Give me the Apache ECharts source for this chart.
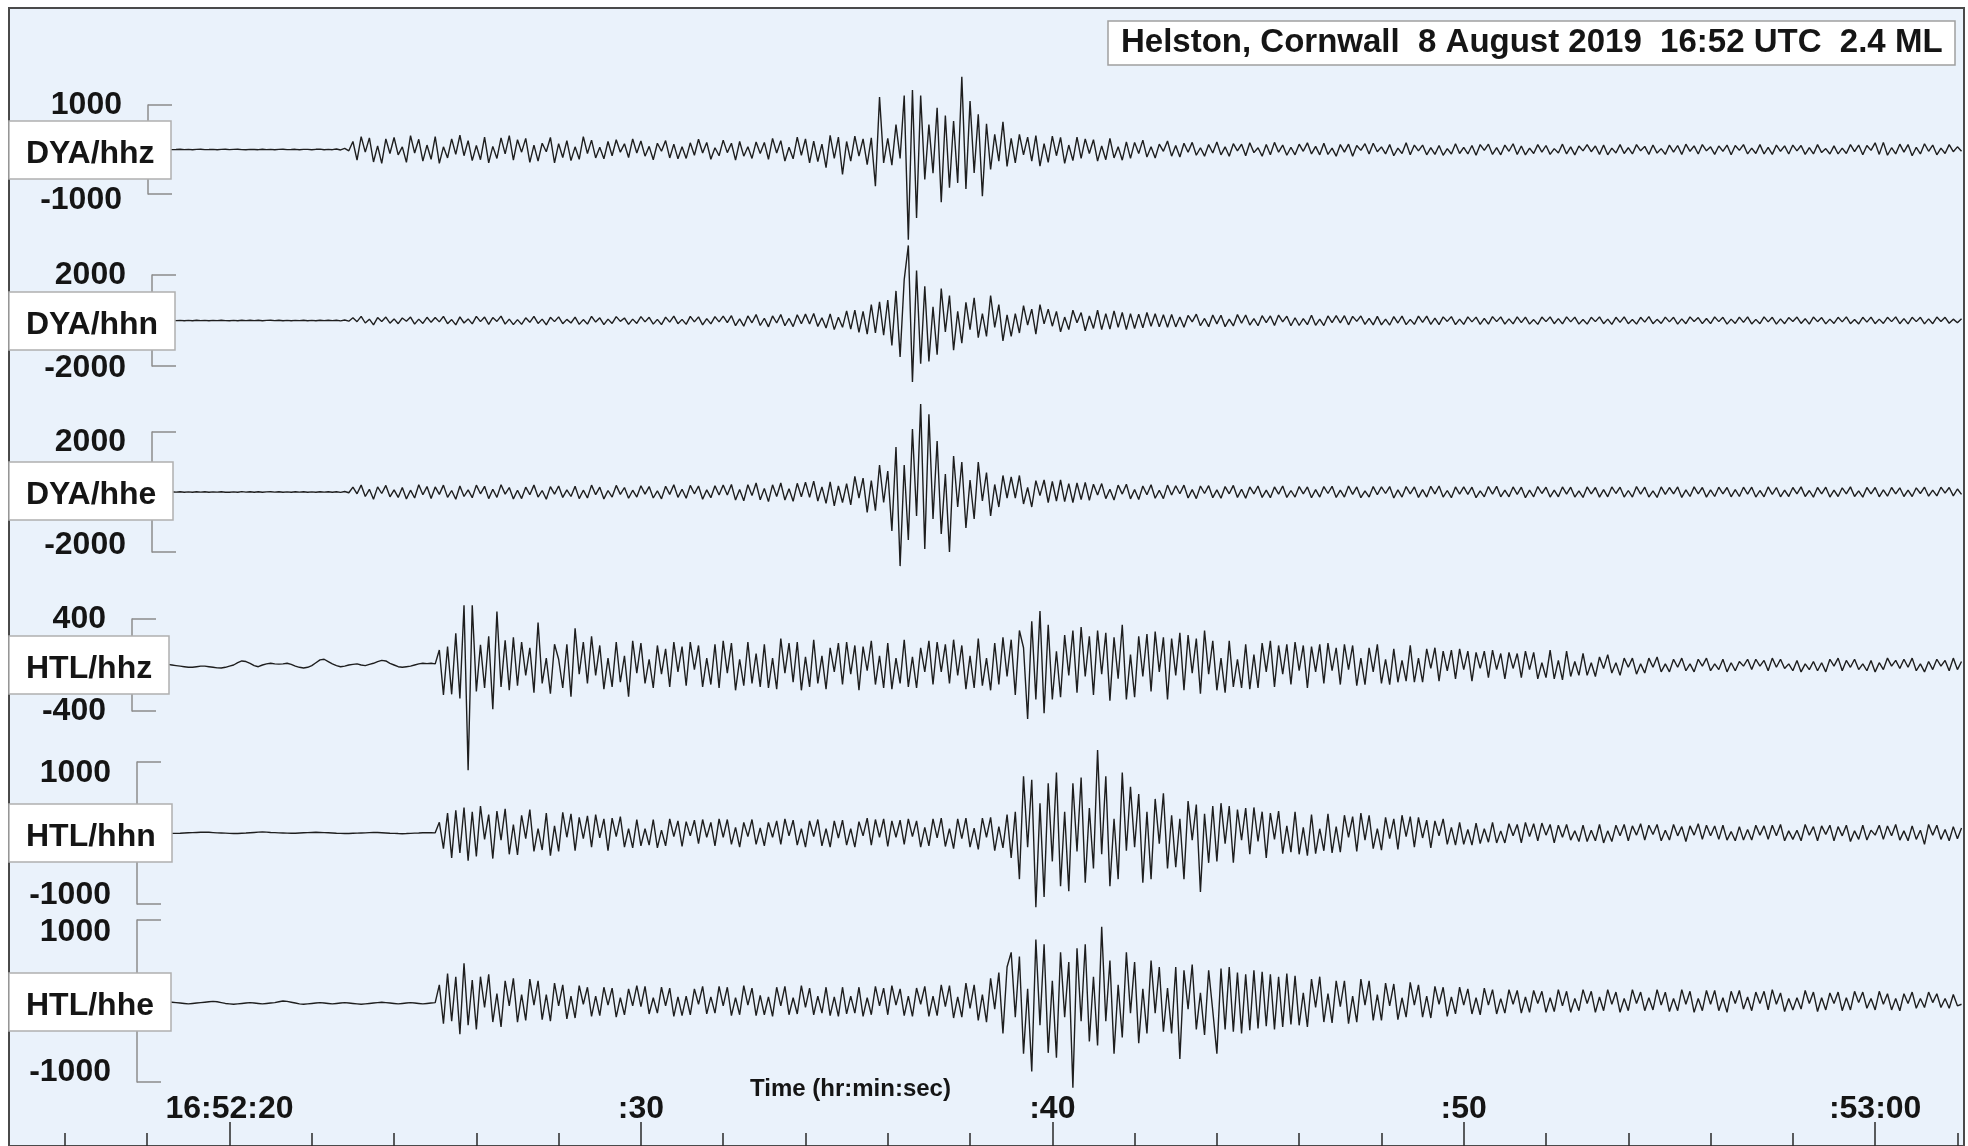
<!DOCTYPE html>
<html>
<head>
<meta charset="utf-8">
<title>Helston, Cornwall 8 August 2019</title>
<script src="https://cdn.jsdelivr.net/npm/echarts@6/dist/echarts.min.js"></script>
<style>
  html, body { margin: 0; padding: 0; background: #ffffff; }
  #eChart { width: 1968px; height: 1146px; }
</style>
</head>
<body>
<div id="eChart"></div>
<script>
const eventTitle = "Helston, Cornwall  8 August 2019  16:52 UTC  2.4 ML";
const axisTitle = "Time (hr:min:sec)";
const channels = ["DYA/hhz", "DYA/hhn", "DYA/hhe", "HTL/hhz", "HTL/hhn", "HTL/hhe"];
const scaleBars = [1000, 2000, 2000, 400, 1000, 1000];

// seconds after 16:52:20
const timeTicks = [0, 10, 20, 30, 40];
const timeLabels = ["16:52:20", ":30", ":40", ":50", ":53:00"];
const minorTicks = [-4, -2, 2, 4, 6, 8, 12, 14, 16, 18, 22, 24, 26, 28, 32, 34, 36, 38, 42];

// samples start at t0, one every dt seconds (one row = one second)
const t0 = -2;
const dt = 0.1;

const dyaHhz = [
  5,-3,4,2,-4,3,-2,0,4,-3,
  2,-4,3,5,-2,0,3,-5,2,4,
  -3,2,6,-2,-5,3,1,-4,5,-2,
  3,-4,2,6,-3,-1,4,-6,3,2,
  -5,4,8,-6,3,-4,12,-10,25,-30,
  180,-240,290,-60,260,-280,80,-310,240,-90,
  270,-120,60,-290,310,-80,230,-260,100,-220,
  290,-310,60,-190,240,-110,320,-140,200,-250,
  90,-230,280,-300,70,-200,260,-100,310,-240,
  220,-60,250,-290,100,-260,140,-50,270,-300,
  130,-180,200,-250,60,-220,290,-90,210,-190,
  50,-210,180,-140,220,-60,130,-180,240,-80,
  190,-150,70,-230,140,-40,200,-190,120,-210,
  60,-200,150,-130,230,-80,160,-220,40,-140,
  210,-70,140,-240,180,-150,60,-200,170,-90,
  160,-220,250,-80,200,-260,50,-210,280,-130,
  240,-300,190,-270,120,-410,320,-200,280,-560,
  180,-260,300,-150,240,-340,260,-825,1180,-300,
  250,-350,560,-200,1215,-2025,1335,-1540,1215,-675,
  560,-530,940,-1185,765,-860,640,-750,1635,-885,
  1090,-525,790,-1050,580,-450,340,-260,620,-380,
  250,-300,340,-120,280,-260,310,-375,130,-290,
  300,-140,270,-310,100,-250,280,-200,240,-90,
  220,-260,80,-230,250,-190,60,-240,170,-200,
  160,-90,210,-170,60,-190,120,-40,190,-150,
  90,-170,140,-60,160,-130,40,-150,110,-80,
  170,-120,60,-150,130,-30,120,-140,150,-70,
  40,-150,110,-120,160,-60,100,-130,50,-120,
  120,-40,150,-100,70,-120,140,-110,30,-150,
  110,-60,120,-150,90,-20,130,-100,140,-50,
  60,-100,110,-140,30,-90,150,-120,100,-30,
  100,-120,40,-110,90,-130,20,-100,130,-90,
  50,-100,90,-130,110,-20,120,-110,40,-120,
  100,-40,130,-110,80,-120,30,-90,110,-60,
  90,-110,20,-80,120,-100,60,-120,80,-30,
  110,-50,80,-110,100,-120,30,-80,110,-90,
  40,-100,110,-30,70,-110,100,-80,20,-110,
  100,-60,90,-110,120,-40,80,-100,110,-30,
  60,-110,80,-40,100,-120,90,-20,110,-100,
  30,-90,110,-100,50,-110,100,-40,80,-100,
  100,-30,90,-110,40,-100,110,-70,20,-100,
  80,-100,30,-90,110,-50,100,-120,90,-20,
  150,-110,160,-130,40,-100,120,-60,110,-140,
  50,-100,130,-40,100,-120,30,-90,110,-50,
  60,-40
];

const dyaHhn = [
  10,-5,8,-10,5,-8,12,-6,4,-10,
  6,-8,10,-4,7,-12,5,-6,9,-5,
  -8,6,-10,12,-5,8,-7,10,-12,6,
  8,-6,10,-9,5,-11,7,-4,9,-8,
  6,-10,8,-5,12,-7,10,-15,20,-30,
  120,-50,180,-110,60,-190,130,-40,150,-120,
  70,-140,110,-30,150,-160,60,-130,140,-80,
  130,-60,180,-140,40,-190,160,-110,70,-150,
  180,-50,150,-170,130,-40,190,-160,60,-180,
  40,-170,120,-80,180,-130,60,-190,140,-50,
  160,-140,50,-110,150,-170,40,-160,180,-70,
  120,-180,60,-130,170,-40,110,-170,60,-130,
  170,-60,140,-160,50,-180,150,-70,190,-140,
  50,-170,180,-60,160,-190,80,-150,170,-60,
  190,-90,210,-230,70,-250,200,-100,260,-220,
  100,-280,200,-110,260,-230,90,-270,250,-140,
  280,-150,310,-260,120,-330,290,-400,140,-300,
  420,-380,460,-520,400,-600,700,-550,820,-650,
  900,-1100,1300,-1600,1800,3300,-2700,2200,-1900,1500,
  -1800,600,-1500,1400,-500,1100,-1300,400,-1000,800,
  -400,1000,-750,300,-700,1100,-300,700,-900,250,
  -700,300,-550,650,-200,500,-600,700,-150,500,
  -250,400,-500,150,-400,450,-100,350,-450,200,
  -350,450,-400,300,-380,420,-300,350,-400,300,
  -350,280,-320,350,-250,300,-280,250,-300,260,
  -280,150,-300,220,-60,280,-230,90,-270,240,
  -150,230,-270,60,-240,260,-120,240,-200,80,
  -230,210,-90,200,-220,240,-60,190,-230,120,
  -220,80,-180,230,-210,60,-220,200,-90,210,
  -100,210,-190,180,-40,200,-170,90,-190,180,
  -190,60,-200,170,-110,190,-180,50,-170,190,
  -80,190,-170,100,-180,160,-40,170,-180,60,
  -170,160,-60,150,-170,90,-160,170,-50,160,
  -160,70,-150,160,-90,150,-160,40,-170,150,
  -50,160,-140,80,-150,160,-60,150,-160,40,
  -160,140,-50,160,-140,60,-170,140,-80,160,
  -140,40,-160,140,-70,170,-140,50,-130,150,
  -60,140,-160,70,-140,160,-40,130,-140,90,
  -140,160,-50,140,-160,60,-130,150,-80,160,
  -150,50,-140,160,-60,140,-160,70,-140,130,
  -40,150,-130,80,-160,150,-50,130,-150,60,
  -130,140,-60,160,-140,40,-150,140,-70,150,
  -140,60,-130,140,-50,160,-140,80,-150,140,
  -50,140,-150,70,-140,150,-40,140,-120,60,
  -100,80
];

const dyaHhe = [
  8,-5,6,-9,4,-6,10,-4,7,-8,
  5,-7,9,-3,6,-10,4,-5,8,-6,
  -7,5,-9,11,-4,7,-6,9,-10,5,
  7,-5,9,-8,4,-10,6,-3,8,-7,
  5,-9,7,-4,10,-6,9,-12,18,-25,
  160,-60,230,-150,90,-240,170,-50,220,-160,
  70,-180,150,-230,60,-200,240,-90,180,-220,
  170,-80,230,-180,50,-240,200,-150,70,-190,
  230,-60,190,-220,90,-180,240,-70,150,-230,
  60,-220,160,-90,230,-170,50,-240,180,-70,
  200,-180,70,-150,190,-220,60,-200,230,-90,
  160,-230,50,-170,220,-80,150,-210,60,-170,
  210,-70,180,-200,40,-230,190,-80,240,-180,
  90,-210,220,-60,200,-240,70,-190,210,-100,
  230,-100,250,-270,80,-290,240,-120,300,-260,
  120,-320,240,-150,300,-270,110,-310,290,-160,
  330,-180,360,-300,170,-380,340,-460,200,-350,
  280,-430,520,-200,460,-680,380,-620,900,-350,
  700,-1300,1500,-2470,900,-1600,2100,-800,2930,-1900,
  2590,-900,1700,-1400,600,-2000,1200,-500,1000,-1200,
  400,-900,1000,-300,650,-800,250,-500,550,-200,
  500,-200,550,-400,150,-500,380,-120,400,-350,
  350,-300,400,-320,280,-350,300,-250,320,-280,
  260,-100,280,-220,90,-270,230,-70,260,-230,
  80,-250,200,-90,240,-210,60,-220,230,-100,
  210,-60,230,-200,80,-220,200,-50,210,-190,
  70,-210,180,-60,220,-180,90,-210,170,-60,
  200,-180,60,-190,170,-70,200,-180,50,-170,
  180,-60,170,-190,80,-170,180,-50,190,-180,
  60,-170,200,-80,170,-190,40,-170,180,-90,
  170,-50,180,-200,70,-170,180,-60,170,-180,
  80,-170,190,-60,200,-170,50,-190,170,-70,
  170,-80,160,-190,40,-160,180,-70,190,-160,
  60,-160,170,-80,160,-190,60,-160,180,-50,
  160,-170,60,-160,170,-70,160,-170,40,-180,
  170,-60,150,-170,80,-160,170,-50,160,-170,
  50,-170,180,-70,160,-170,40,-180,170,-80,
  150,-60,170,-180,70,-150,170,-60,150,-170,
  70,-150,160,-60,150,-160,80,-150,160,-70,
  160,-170,50,-160,170,-80,150,-160,60,-150,
  150,-60,170,-150,50,-170,150,-60,160,-170,
  60,-150,140,-60,170,-150,40,-170,150,-60,
  150,-160,70,-140,150,-60,140,-150,60,-150,
  140,-50,160,-140,60,-130,160,-40,150,-130,
  100,-80
];

const htlHhz = [
  10,12,15,15,10,5,0,-5,-10,-15,
  -20,-20,-15,-10,-10,-15,-20,-25,-26,-20,
  -10,0,20,35,30,15,-5,-15,0,10,
  15,10,8,10,15,5,-10,-20,-26,-20,
  -5,20,45,50,30,10,-5,-15,-10,0,
  5,10,0,-5,5,15,30,40,35,15,
  0,-15,-20,-15,-10,0,10,15,12,15,
  10,130,-260,160,-255,275,-290,520,-915,520,
  -230,175,-200,250,-385,465,-190,215,-220,240,
  -180,200,-90,150,-240,370,-160,60,-250,180,
  50,-200,180,-275,320,-80,200,-160,250,-90,
  170,-210,60,-190,200,-150,80,-275,210,-70,
  190,-160,50,-200,170,-80,140,-190,200,-60,
  160,-180,200,-40,170,-190,60,-170,180,-200,
  210,-70,190,-220,50,-180,200,-160,100,-190,
  180,-200,60,-210,230,-70,190,-150,200,-220,
  70,-190,220,-160,80,-210,150,-60,190,-170,
  200,-80,170,-220,160,-50,210,-170,80,-200,
  190,-210,60,-160,220,-190,70,-200,150,-60,
  210,-170,200,-60,180,-160,220,-90,170,-210,
  80,-200,230,-180,60,-220,190,-170,240,-100,
  220,-260,300,150,-470,380,-300,470,-420,350,
  -300,120,-280,260,-90,300,-240,330,-100,250,
  -260,300,-80,280,-310,240,-120,350,-300,90,
  -280,250,-100,270,-230,290,-60,240,-300,230,
  -90,280,-220,260,-70,230,-250,300,-80,210,
  -220,60,-240,210,-190,50,-200,180,-210,90,
  -200,190,-60,210,-190,170,-80,180,-170,200,
  -50,170,-200,160,-60,180,-160,190,-50,150,
  -170,180,-40,170,-180,60,-170,150,-60,180,
  -160,50,-170,140,-150,40,-140,170,-150,60,
  -150,140,-30,150,-140,120,-50,130,-120,140,
  -40,120,-140,110,-30,120,-110,130,-40,100,
  -120,110,-30,100,-110,120,-40,110,-120,20,
  -110,130,-120,40,-130,120,-100,30,-90,100,
  -90,20,-100,70,-30,90,-70,20,-90,60,
  -20,60,-80,10,-70,60,-20,70,-60,10,
  -60,50,-20,60,-50,10,-60,50,-10,60,
  -50,10,-40,50,-60,20,-50,30,-10,50,
  -40,50,-10,40,-50,60,-20,50,-30,10,
  -50,40,-60,10,-40,30,-50,20,-60,50,
  -10,60,-50,40,-20,50,-40,10,-50,40,
  -60,20,-40,60,-10,40,-30,50,-20,60,
  -50,10,-60,30,-40,50,-10,40,-50,60,
  -40,30
];

const htlHhn = [
  5,8,10,8,5,0,-3,-5,-3,0,
  3,5,8,10,12,10,6,2,0,-2,
  -5,-8,-6,-3,0,4,8,12,15,12,
  8,5,2,0,-2,-4,-3,0,3,5,
  8,10,8,5,3,0,-3,-5,-8,-6,
  -4,-2,0,2,5,8,6,3,0,-3,
  -5,-8,-10,-8,-5,-2,0,3,5,4,
  2,150,-220,280,-350,320,-280,360,-390,300,
  -330,380,-90,260,-360,310,-100,340,-300,120,
  -310,250,-80,330,-260,60,-240,280,-320,100,
  -260,290,-60,270,-250,220,-80,240,-200,260,
  -70,200,-250,210,-50,230,-200,60,-210,190,
  -180,60,-170,190,-210,40,-180,200,-50,170,
  -190,160,-40,180,-150,190,-60,150,-180,200,
  -60,190,-160,80,-200,150,-50,190,-160,70,
  -180,150,-60,170,-160,200,-40,180,-170,60,
  -200,170,-50,190,-180,60,-200,170,-70,180,
  -170,60,-200,160,-40,210,-170,190,-60,200,
  -190,170,-60,180,-160,200,-50,170,-200,80,
  -180,200,-70,210,-190,60,-220,200,-80,210,
  -200,70,-230,210,-60,220,-250,90,-210,260,
  -350,300,-650,800,-200,750,-1045,420,-900,700,
  -400,850,-750,300,-820,700,-260,780,-700,350,
  -500,1170,-300,800,-750,200,-650,850,-250,650,
  -200,550,-700,300,-650,480,-150,560,-500,250,
  -480,200,-650,450,-100,400,-830,270,-420,380,
  -400,420,-150,380,-420,330,-100,350,-300,360,
  -120,300,-350,280,-90,310,-290,100,-270,300,
  -300,80,-320,260,-290,60,-250,270,-280,90,
  -270,250,-60,230,-260,280,-100,250,-220,60,
  -240,220,-80,200,-230,250,-50,230,-200,220,
  -70,180,-210,170,-40,200,-160,80,-170,150,
  -160,50,-170,140,-150,60,-130,150,-140,30,
  -140,130,-40,120,-140,150,-50,130,-110,140,
  -30,120,-140,110,-60,120,-100,30,-120,110,
  -120,40,-110,120,-140,30,-120,110,-40,120,
  -110,100,-30,130,-100,110,-20,120,-110,40,
  -100,120,-40,90,-120,100,-30,130,-90,110,
  -40,100,-90,110,-100,20,-110,90,-100,50,
  -100,110,-30,100,-90,110,-40,120,-110,30,
  -90,40,-110,120,-30,90,-110,100,-20,110,
  -110,90,-40,110,-120,30,-90,110,-100,40,
  -30,110,-90,100,-40,120,-100,30,-110,100,
  -90,40,-160,120,-30,110,-90,50,-110,90,
  -80,70
];

const htlHhe = [
  -30,-25,-20,-15,-10,-10,-15,-20,-25,-30,
  -35,-30,-25,-20,-15,-10,-5,-10,-20,-30,
  -35,-40,-35,-30,-25,-20,-25,-30,-35,-30,
  -25,-20,-10,0,-5,-15,-25,-35,-40,-35,
  -30,-25,-20,-25,-30,-35,-30,-25,-20,-25,
  -30,-35,-40,-35,-30,-25,-20,-15,-20,-25,
  -30,-35,-30,-25,-20,-25,-30,-35,-30,-25,
  -20,200,-280,340,-250,300,-410,465,-300,260,
  -350,300,-80,330,-260,90,-320,250,-60,280,
  -260,80,-240,270,-50,250,-230,80,-250,220,
  -60,200,-220,60,-210,190,-40,170,-190,60,
  -180,170,-50,160,-200,40,-170,150,-60,190,
  -70,180,-160,40,-150,170,-60,160,-190,50,
  -180,60,-170,150,-40,180,-160,50,-150,180,
  -60,170,-180,40,-170,190,-50,160,-180,70,
  -170,50,-190,170,-60,180,-170,40,-160,190,
  -80,160,-170,60,-150,170,-180,50,-190,170,
  -160,60,-150,170,-190,40,-170,180,-60,160,
  -170,190,-50,150,-180,60,-190,160,-40,180,
  -190,60,-180,200,-70,190,-210,50,-200,220,
  -90,200,-240,80,-260,280,-100,350,-400,420,
  600,-200,550,-650,150,-870,760,-300,700,-640,
  250,-700,600,-200,480,-1070,650,-250,700,-500,
  300,-550,915,-250,500,-650,200,-450,600,-150,
  480,-520,150,-400,500,-150,420,-380,160,-400,
  420,-715,380,-100,450,-350,100,-420,380,-120,
  -650,400,-350,420,-380,350,-400,330,-360,380,
  -340,360,-310,330,-350,300,-320,340,-290,310,
  -300,100,-320,270,-80,300,-260,90,-270,250,
  -70,250,-280,60,-260,270,-50,250,-240,80,
  -240,220,-60,210,-230,40,-200,230,-50,200,
  -200,60,-210,180,-40,170,-190,50,-160,170,
  -50,150,-160,40,-170,160,-50,140,-160,30,
  -150,140,-40,130,-150,50,-140,130,-30,120,
  -140,40,-130,140,-60,120,-140,30,-120,140,
  -30,120,-140,50,-120,140,-40,110,-140,30,
  -120,140,-30,110,-120,40,-110,140,-50,110,
  -130,30,-120,140,-40,120,-140,30,-120,130,
  -40,130,-120,40,-140,120,-30,130,-100,50,
  -120,110,-30,120,-110,140,-40,100,-130,30,
  -110,40,-100,130,-30,110,-130,40,-110,100,
  -30,110,-120,40,-110,120,-20,110,-90,30,
  -110,120,-40,90,-110,30,-120,90,-30,110,
  -90,30,-80,110,-20,90,-80,30,-90,80,
  -60,-40
];

const traces = [dyaHhz, dyaHhn, dyaHhe, htlHhz, htlHhn, htlHhe];

// pixel layout of each trace panel: scale bracket top/bottom, bracket x,
// label shift (top, bottom) in px
const panelLayout = [
  { top: 105, bottom: 194, bracketX: 148, shift: [0, 6] },
  { top: 275, bottom: 366, bracketX: 152, shift: [0, 2] },
  { top: 432, bottom: 552, bracketX: 152, shift: [10, -7] },
  { top: 619, bottom: 711, bracketX: 132, shift: [0, 0] },
  { top: 762, bottom: 904, bracketX: 137, shift: [11, -9] },
  { top: 920, bottom: 1082, bracketX: 137, shift: [12, -10] },
];
const boxCenters = [150, 321, 491, 665, 833, 1002];

const FONT = "'Liberation Sans', Arial, Helvetica, sans-serif";
const INK = "#151515";
const X_MIN = -5.36;
const X_MAX = 42.16;
const PLOT_LEFT = 9;
const PLOT_RIGHT = 4;

function makeChart({ elementId = "eChart" }) {
  const grid = [
    {
      left: PLOT_LEFT, right: PLOT_RIGHT, top: 8, bottom: -2,
      show: true, backgroundColor: "#eaf2fb",
      borderColor: "#4a4a4a", borderWidth: 2,
    },
  ];
  const xAxis = [
    {
      type: "value", gridIndex: 0, position: "bottom", min: X_MIN, max: X_MAX,
      axisLine: { show: false, onZero: false },
      splitLine: { show: false },
      axisTick: {
        show: true, inside: true, length: 24, customValues: timeTicks,
        lineStyle: { color: "#2a2a2a", width: 1.5 },
      },
      axisLabel: {
        show: true, inside: true, margin: 21, customValues: timeTicks,
        formatter: (v) => timeLabels[timeTicks.indexOf(Math.round(v))],
        color: INK, fontFamily: FONT, fontWeight: "bold", fontSize: 32,
      },
    },
    {
      type: "value", gridIndex: 0, position: "bottom", min: X_MIN, max: X_MAX,
      axisLine: { show: false, onZero: false },
      splitLine: { show: false },
      axisTick: {
        show: true, inside: true, length: 13, customValues: minorTicks,
        lineStyle: { color: "#2a2a2a", width: 1.5 },
      },
      axisLabel: { show: false },
    },
  ];
  const yAxis = [
    { type: "value", gridIndex: 0, min: 0, max: 1, show: false },
  ];
  const series = [];
  const titles = [
    {
      text: eventTitle, left: 1108, top: 21,
      padding: [4, 13, 4, 13],
      backgroundColor: "#ffffff", borderColor: "#a0a0a0", borderWidth: 1.5,
      textStyle: { color: INK, fontFamily: FONT, fontWeight: "bold", fontSize: 33, lineHeight: 36 },
    },
    {
      text: axisTitle, left: 750, top: 1076, padding: 0,
      textStyle: { color: INK, fontFamily: FONT, fontWeight: "bold", fontSize: 24, lineHeight: 26 },
    },
  ];

  channels.forEach((name, i) => {
    const p = panelLayout[i];
    const s = scaleBars[i];
    grid.push({
      left: PLOT_LEFT, right: PLOT_RIGHT, top: p.top,
      height: p.bottom - p.top, show: false,
    });
    xAxis.push({
      type: "value", gridIndex: i + 1, min: X_MIN, max: X_MAX, show: false,
    });
    const padTop = Math.max(0, p.shift[0]) * 2;
    const padBot = Math.max(0, -p.shift[1]) * 2;
    const padTop2 = Math.max(0, p.shift[1]) * 2;
    yAxis.push({
      type: "value", gridIndex: i + 1, min: -s, max: s,
      position: "left", offset: -(p.bracketX - PLOT_LEFT),
      splitLine: { show: false },
      axisLine: { show: true, onZero: false, lineStyle: { color: "#8c8c8c", width: 1.5 } },
      axisTick: {
        show: true, inside: true, length: 24, customValues: [-s, s],
        lineStyle: { color: "#8c8c8c", width: 1.5 },
      },
      axisLabel: {
        show: true, margin: 26, customValues: [-s, s],
        formatter: (v) => (v > 0 ? "{hi|" + v + "}" : "{lo|" + v + "}"),
        rich: {
          hi: { color: INK, fontFamily: FONT, fontWeight: "bold", fontSize: 32, padding: [padTop, 0, 0, 0] },
          lo: { color: INK, fontFamily: FONT, fontWeight: "bold", fontSize: 32, padding: [padTop2, 0, padBot, 0] },
        },
      },
    });
    series.push({
      type: "line",
      name: name,
      xAxisIndex: i + 2,
      yAxisIndex: i + 1,
      data: traces[i].map((v, k) => [t0 + k * dt, v]),
      showSymbol: false,
      symbol: "none",
      clip: false,
      silent: true,
      lineStyle: { color: "#1e1e1e", width: 1.4 },
    });
    titles.push({
      text: name, left: PLOT_LEFT, top: boxCenters[i] - 29,
      padding: [15, 17, 7, 17],
      backgroundColor: "#ffffff", borderColor: "#b0b0b0", borderWidth: 1.5,
      textStyle: { color: INK, fontFamily: FONT, fontWeight: "bold", fontSize: 32, lineHeight: 36 },
    });
  });

  const opts = {
    animation: false,
    backgroundColor: "#ffffff",
    title: titles,
    grid: grid,
    xAxis: xAxis,
    yAxis: yAxis,
    series: series,
  };
  const myChart = echarts.init(document.getElementById(elementId), null, {
    renderer: "canvas",
  });
  myChart.setOption(opts);
}

makeChart({});
</script>
</body>
</html>
